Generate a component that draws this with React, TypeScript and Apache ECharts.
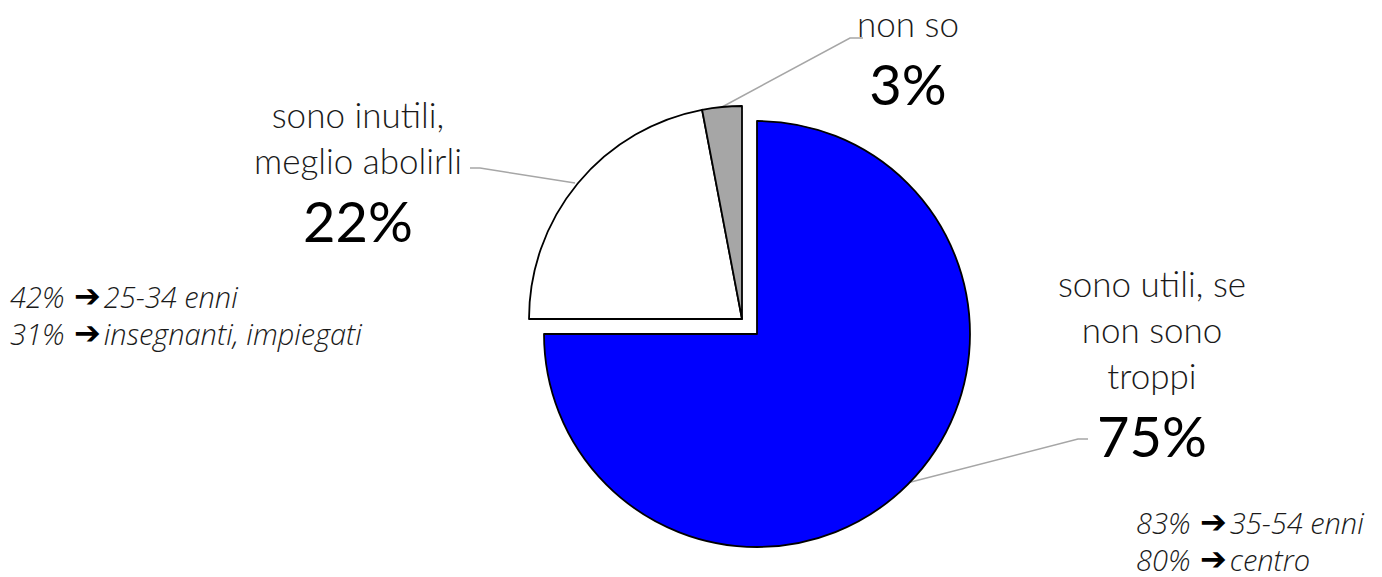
import React, { useEffect, useRef } from "react";
import * as echarts from "echarts";

const categories = ["sono utili, se\nnon sono\ntroppi", "sono inutili,\nmeglio abolirli", "non so"];
const values = [75, 22, 3];
const colors = ["#0000FF", "#FFFFFF", "#A6A6A6"];
const exploded = [true, false, false];
const notesLeft = [
  ["42% ", "25-34 enni"],
  ["31% ", "insegnanti, impiegati"],
];
const notesRight = [
  ["83% ", "35-54 enni"],
  ["80% ", "centro"],
];

// label anchor (top-center) and leader line points for each slice
const labelPos = [
  { x: 1152, y: 260, line: [[907, 483], [1078, 439], [1088, 439]] },
  { x: 358, y: 91, line: [[575, 183], [480, 168], [470, 168]] },
  { x: 908, y: 0, line: [[722, 107], [850, 38], [863, 38]] },
];

const FONT = "Lato";

export default function App() {
  const ref = useRef<HTMLDivElement>(null);
  useEffect(() => {
    const chart = echarts.init(ref.current!, undefined, { renderer: "svg" });

    const makeSeries = (isExploded: boolean, center: number[]) => ({
      type: "pie",
      center,
      radius: 213,
      startAngle: 90,
      clockwise: true,
      emphasis: { disabled: true },
      itemStyle: { borderColor: "#000000", borderWidth: 1.8 },
      label: {
        show: true,
        formatter: (p: any) => `{name|${p.name}}\n{pct|${p.value}%}`,
        rich: {
          name: {
            fontFamily: FONT,
            fontWeight: 300,
            fontSize: 35,
            lineHeight: 46,
            color: "#1a1a1a",
            align: "center",
          },
          pct: {
            fontFamily: FONT,
            fontSize: 56,
            lineHeight: 74,
            color: "#000000",
            align: "center",
          },
        },
      },
      labelLine: {
        show: true,
        lineStyle: { color: "#A6A6A6", width: 1.5 },
      },
      labelLayout: (params: any) => {
        const lp = labelPos[params.dataIndex];
        return {
          x: lp.x,
          y: lp.y,
          align: "center",
          verticalAlign: "top",
          labelLinePoints: lp.line,
        };
      },
      data: values.map((v, i) => {
        const visible = exploded[i] === isExploded;
        return {
          name: categories[i],
          value: v,
          itemStyle: visible
            ? { color: colors[i] }
            : { color: "none", borderWidth: 0, opacity: 0 },
          label: { show: visible },
          labelLine: { show: visible },
        };
      }),
    });

    const noteRich = {
      t: { fontFamily: "Open Sans", fontStyle: "italic", fontWeight: 300, fontSize: 29, lineHeight: 32, fill: "#1a1a1a" },
      a: { fontFamily: "DejaVu Sans", fontWeight: "bold", fontSize: 32, lineHeight: 32, fill: "#000000", padding: [0, 3, 0, 2] },
    };
    const note = (parts: string[], left: number, top: number) => ({
      type: "text",
      left,
      top,
      style: {
        text: `{t|${parts[0]}}{a|\u2794}{t|${parts[1]}}`,
        rich: noteRich,
      },
    });

    chart.setOption({
      animation: false,
      backgroundColor: "#FFFFFF",
      series: [makeSeries(false, [742, 319]), makeSeries(true, [757, 334])],
      graphic: [
        ...notesLeft.map((p, i) => note(p, 10, 280 + i * 37)),
        ...notesRight.map((p, i) => note(p, 1136, 506 + i * 37)),
      ],
    });
    return () => chart.dispose();
  }, []);
  return (
    <div
      ref={ref}
      style={{ position: "fixed", left: 0, top: 0, width: 1382, height: 577, background: "#fff" }}
    />
  );
}
